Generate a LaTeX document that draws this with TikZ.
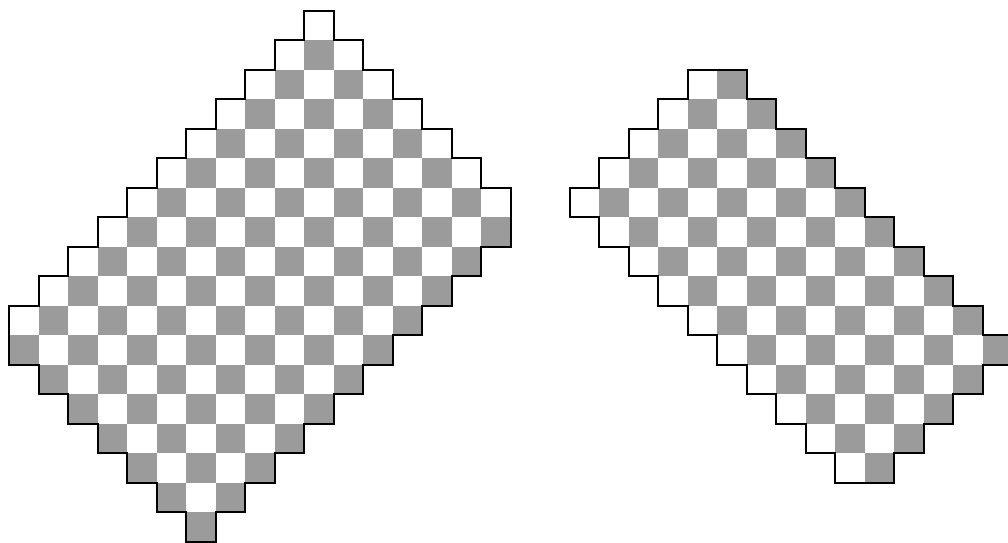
\documentclass[tikz,border=0pt]{standalone}
\usepackage{tikz}
\definecolor{cellgray}{RGB}{155,155,155}
\tikzset{
  darkcell/.style={fill=cellgray},
  outline/.style={line width=0.9pt,line join=miter}
}

\begin{document}
\begin{tikzpicture}[x=0.5cm,y=0.5cm]
  \fill[white] (-0.315,0.364) rectangle (33.85,-18.04);
  \clip (-0.315,0.364) rectangle (33.85,-18.04);
  % left board: row/first column/last column
  \foreach \r/\a/\b in {0/10/10,1/9/11,2/8/12,3/7/13,4/6/14,5/5/15,6/4/16,7/3/16,8/2/15,
                        9/1/14,10/0/13,11/0/12,12/1/11,13/2/10,14/3/9,15/4/8,16/5/7,17/6/6}{
    \foreach \c in {\a,...,\b}{
      \pgfmathtruncatemacro\odd{mod(\r+\c,2)}
      \ifnum\odd=1 \fill[darkcell] (\c,-\r) rectangle ++(1,-1);\fi
    }
  }
  \draw[outline] (10,0) -- (11,0)
    \foreach \k in {1,...,6}{ -- (10+\k,-\k) -- (11+\k,-\k) }
    -- (17,-8) -- (16,-8)
    \foreach \k in {8,...,17}{ -- (24-\k,-\k-1) -- (23-\k,-\k-1) }
    \foreach \k in {17,16,...,12}{ -- (\k-11,-\k) -- (\k-12,-\k) }
    -- (0,-10) -- (1,-10)
    \foreach \k in {9,8,...,1}{ -- (10-\k,-\k) -- (11-\k,-\k) }
    -- cycle;
  % right board
  \foreach \r/\a/\b in {2/23/24,3/22/25,4/21/26,5/20/27,6/19/28,7/20/29,8/21/30,
                        9/22/31,10/23/32,11/24/33,12/25/32,13/26/31,14/27/30,15/28/29}{
    \foreach \c in {\a,...,\b}{
      \pgfmathtruncatemacro\odd{mod(\r+\c,2)}
      \ifnum\odd=0 \fill[darkcell] (\c,-\r) rectangle ++(1,-1);\fi
    }
  }
  \draw[outline] (23,-2) -- (25,-2)
    \foreach \k in {3,...,11}{ -- (\k+22,-\k) -- (\k+23,-\k) }
    \foreach \k in {11,...,15}{ -- (45-\k,-\k-1) -- (44-\k,-\k-1) }
    -- (28,-16)
    \foreach \k in {15,14,...,7}{ -- (\k+13,-\k) -- (\k+12,-\k) }
    \foreach \k in {6,5,4,3}{ -- (25-\k,-\k) -- (26-\k,-\k) }
    -- cycle;
\end{tikzpicture}
\end{document}
